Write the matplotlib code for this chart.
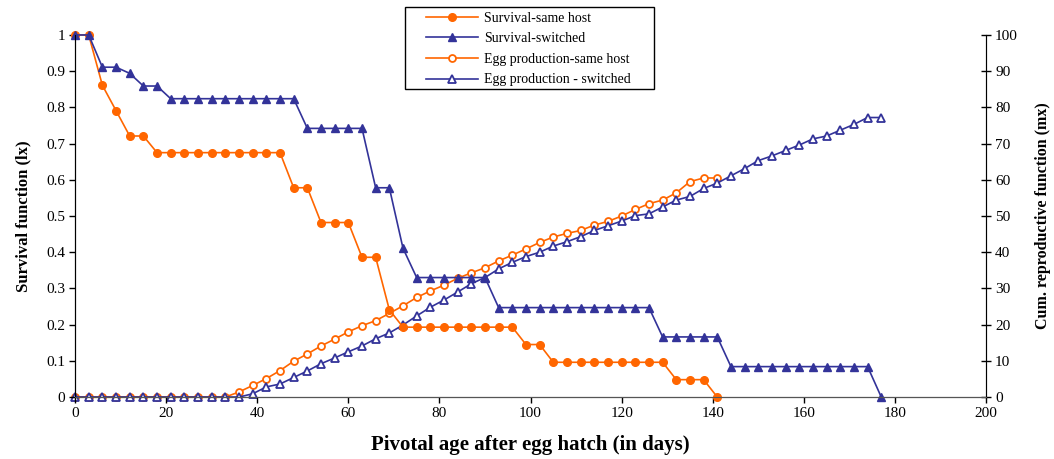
import numpy as np
import matplotlib
matplotlib.use('Agg')
import matplotlib.pyplot as plt
from matplotlib.patches import Rectangle
from matplotlib.ticker import FuncFormatter

plt.rcParams['font.family'] = ['Liberation Serif', 'DejaVu Serif']

# pivotal age (days), sampled every 3 days
days_same = list(range(0, 142, 3))
days_switched = list(range(0, 178, 3))

survival_same = [1, 1, 0.861, 0.791, 0.721, 0.721,
                 0.675, 0.675, 0.675, 0.675, 0.675, 0.675, 0.675, 0.675, 0.675, 0.675,
                 0.578, 0.578, 0.482, 0.482, 0.482, 0.386, 0.386, 0.241,
                 0.193, 0.193, 0.193, 0.193, 0.193, 0.193, 0.193, 0.193, 0.193,
                 0.145, 0.145,
                 0.096, 0.096, 0.096, 0.096, 0.096, 0.096, 0.096, 0.096, 0.096,
                 0.048, 0.048, 0.048, 0]

survival_switched = [1, 1, 0.911, 0.911, 0.894, 0.859, 0.859,
                     0.824, 0.824, 0.824, 0.824, 0.824, 0.824, 0.824, 0.824, 0.824, 0.824,
                     0.742, 0.742, 0.742, 0.742, 0.742,
                     0.578, 0.578, 0.411,
                     0.33, 0.33, 0.33, 0.33, 0.33, 0.33,
                     0.247, 0.247, 0.247, 0.247, 0.247, 0.247, 0.247, 0.247, 0.247, 0.247, 0.247, 0.247,
                     0.166, 0.166, 0.166, 0.166, 0.166,
                     0.084, 0.084, 0.084, 0.084, 0.084, 0.084, 0.084, 0.084, 0.084, 0.084, 0.084,
                     0]

eggs_same = [0, 0, 0, 0, 0, 0, 0, 0, 0, 0, 0, 0,
             1.4, 3.2, 5.1, 7.3, 9.9, 11.9, 14.1, 16.0, 18.0, 19.7, 21.1, 23.1,
             25.2, 27.5, 29.3, 30.9, 32.8, 34.3, 35.7, 37.6, 39.2, 40.9, 42.7, 44.2,
             45.2, 46.0, 47.5, 48.5, 50.0, 51.8, 53.4, 54.4, 56.4, 59.5, 60.5, 60.5]

eggs_switched = [0, 0, 0, 0, 0, 0, 0, 0, 0, 0, 0, 0, 0,
                 0.9, 2.8, 3.6, 5.4, 7.2, 9.2, 10.8, 12.5, 14.1, 16.1, 17.7,
                 19.9, 22.4, 24.8, 26.8, 29.0, 31.3, 33.0, 35.4, 37.2, 38.8, 40.0, 41.7,
                 42.9, 44.3, 46.0, 47.3, 48.6, 50.1, 50.6, 52.5, 54.4, 55.4, 57.6, 59.1,
                 61.1, 63.1, 65.3, 66.6, 68.1, 69.6, 71.3, 72.1, 73.7, 75.3, 77.2, 77.2]

orange = '#FF6600'
blue = '#333399'

fig = plt.figure(figsize=(10.54, 4.59), dpi=100)
ax = fig.add_axes([0.0712, 0.135, 0.8643, 0.7888])
ax2 = ax.twinx()

l1, = ax.plot(days_same, survival_same, color=orange, lw=1.2, marker='o', ms=5.5,
              label='Survival-same host', clip_on=False)
l2, = ax.plot(days_switched, survival_switched, color=blue, lw=1.2, marker='^', ms=6,
              label='Survival-switched', clip_on=False)
l3, = ax2.plot(days_same, eggs_same, color=orange, lw=1.2, marker='o', ms=5,
               mfc='white', mec=orange, mew=1.3, label='Egg production-same host', clip_on=False)
l4, = ax2.plot(days_switched, eggs_switched, color=blue, lw=1.2, marker='^', ms=5.5,
               mfc='white', mec=blue, mew=1.3, label='Egg production - switched', clip_on=False)

ax.set_xlim(0, 200)
ax.set_ylim(0, 1)
ax2.set_ylim(0, 100)
ax.set_xticks(range(0, 201, 20))
ax.set_yticks(np.arange(0, 1.01, 0.1))
ax2.set_yticks(range(0, 101, 10))
ax.yaxis.set_major_formatter(FuncFormatter(lambda v, p: '%g' % round(v, 1)))

for a in (ax, ax2):
    a.spines['top'].set_visible(False)
    a.tick_params(labelsize=11)
ax.spines['left'].set_color('black')
ax.spines['bottom'].set_color('#555555')
ax2.spines['right'].set_color('#555555')
ax.tick_params(axis='both', direction='out', length=4, width=1, pad=3)
ax2.tick_params(axis='y', direction='inout', length=7, width=1, pad=3)
ax.set_zorder(ax2.get_zorder() + 1)
ax.patch.set_visible(False)

ax.set_xlabel('Pivotal age after egg hatch (in days)', fontsize=15, fontweight='bold', labelpad=11)
ax.set_ylabel('Survival function (lx)', fontsize=12, fontweight='bold', labelpad=11)
ax2.set_ylabel('Cum. reproductive function (mx)', fontsize=11.5, fontweight='bold', labelpad=12)

# legend box drawn separately, wider than the entries (as in the original)
fig.patches.append(Rectangle((405 / 1054, 1 - 89.3 / 459), 249.3 / 1054, 82 / 459,
                             transform=fig.transFigure, facecolor='white',
                             edgecolor='black', lw=1, zorder=5))
leg = fig.legend(handles=[l1, l2, l3, l4], loc='upper left', bbox_to_anchor=(426 / 1054, 1 - 11.5 / 459),
                 fontsize=10, frameon=False, borderpad=0, labelspacing=0.55,
                 handlelength=3.75, handletextpad=0.4, borderaxespad=0)
leg.set_zorder(6)

fig.savefig('out.png', dpi=100)
